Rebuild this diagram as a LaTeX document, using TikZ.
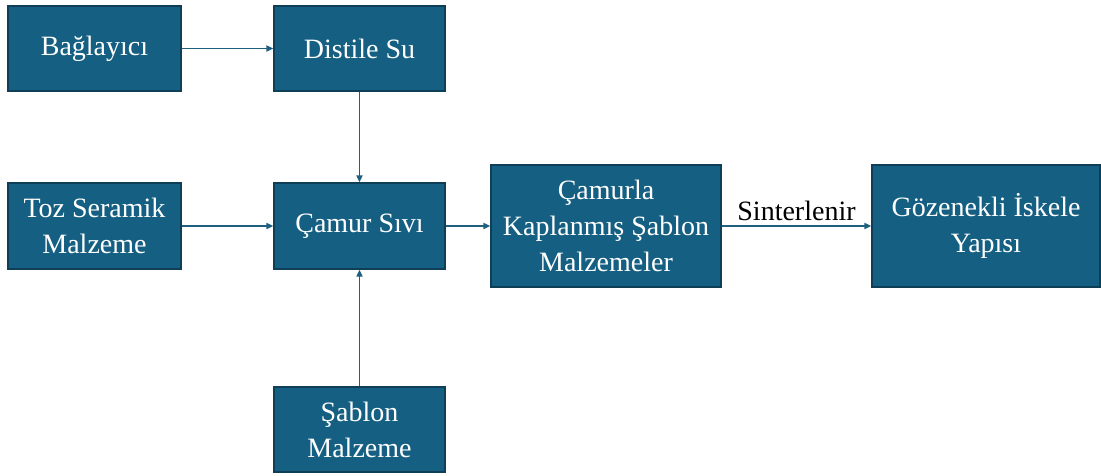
\documentclass[tikz,border=0pt]{standalone}
\usepackage{fontspec}
\setmainfont{Liberation Serif}
\usetikzlibrary{arrows.meta}
\definecolor{boxfill}{HTML}{155F82}
\definecolor{boxedge}{HTML}{0E3F56}
\definecolor{arrowc}{HTML}{1F5F80}
\begin{document}
\begin{tikzpicture}[x=1pt,y=-1pt,
  blk/.style={draw=boxedge,line width=1.2pt,fill=boxfill,text=white,align=center,
    font=\fontsize{28}{36}\selectfont,inner sep=0pt},
  conn/.style={draw=arrowc,line width=1.7pt,-{Triangle[length=7pt,width=6pt]}}]
\useasboundingbox (0,0) rectangle (1101,475);
\node[blk,minimum width=173pt,minimum height=85pt] (bag) at (94.5,48.5) {Bağlayıcı};
\node[blk,minimum width=171pt,minimum height=85pt] (dis) at (359.5,48.5) {Distile Su};
\node[blk,minimum width=173pt,minimum height=86pt] (toz) at (94.5,226) {Toz Seramik\\Malzeme};
\node[blk,minimum width=171pt,minimum height=86pt] (cam) at (359.5,226) {Çamur Sıvı};
\node[blk,minimum width=230pt,minimum height=122pt] (kap) at (606,226) {Çamurla\\Kaplanmış Şablon\\Malzemeler};
\node[blk,minimum width=228pt,minimum height=122pt] (goz) at (986,226) {Gözenekli İskele\\Yapısı};
\node[blk,minimum width=171pt,minimum height=85pt] (sab) at (359.5,429.5) {Şablon\\Malzeme};
\draw[conn] (bag) -- (dis);
\draw[conn] (dis) -- (cam);
\draw[conn] (toz) -- (cam);
\draw[conn] (sab) -- (cam);
\draw[conn] (cam) -- (kap);
\draw[conn] (kap) -- node[above=2pt,font=\fontsize{28}{34}\selectfont,text=black,inner sep=2pt] (sint) {Sinterlenir} (goz);
\end{tikzpicture}
\end{document}
